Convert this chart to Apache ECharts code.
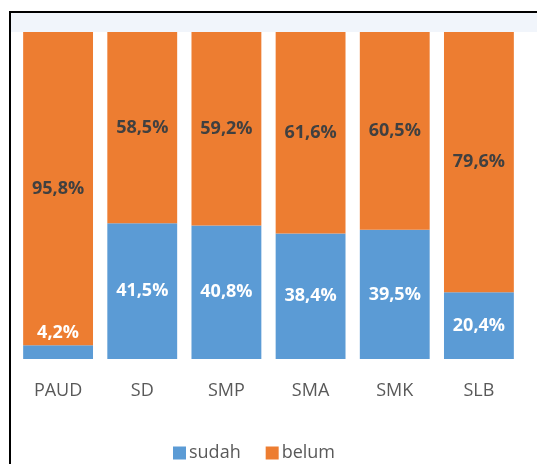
<!DOCTYPE html>
<html>
<head>
<meta charset="utf-8">
<script src="https://cdn.jsdelivr.net/npm/echarts@6/dist/echarts.min.js"></script>
<style>
html,body{margin:0;padding:0;background:#fff;}
#c{width:537px;height:464px;}
</style>
</head>
<body>
<div id="c"></div>
<script>
const categories = ['PAUD', 'SD', 'SMP', 'SMA', 'SMK', 'SLB'];
const sudah = [4.2, 41.5, 40.8, 38.4, 39.5, 20.4];
const belum = [95.8, 58.5, 59.2, 61.6, 60.5, 79.6];
const seriesNames = ['sudah', 'belum'];

const fmt = p => p.value.toFixed(1).replace('.', ',') + '%';
const chart = echarts.init(document.getElementById('c'), null, {renderer: 'canvas'});
chart.setOption({
  animation: false,
  backgroundColor: '#fff',
  textStyle: {fontFamily: 'Open Sans'},
  grid: {left: 16, right: 16, top: 32, bottom: 105},
  graphic: [
    {type: 'rect', z: -10, shape: {x: 11, y: 13, width: 600, height: 19}, style: {fill: '#f1f5fb'}},
    {type: 'rect', z: 100, shape: {x: 10, y: 12, width: 600, height: 500}, style: {fill: 'none', stroke: '#000', lineWidth: 2}}
  ],
  legend: {
    bottom: -3,
    left: 168,
    itemWidth: 13, itemHeight: 13, itemGap: 25,
    icon: 'rect',
    textStyle: {color: '#595959', fontSize: 18, fontFamily: 'Open Sans', padding: [0, 0, 0, -2]},
    data: seriesNames
  },
  xAxis: {
    type: 'category',
    data: categories,
    axisLine: {show: false},
    axisTick: {show: false},
    axisLabel: {color: '#595959', fontSize: 18, margin: 23, fontFamily: 'Open Sans'}
  },
  yAxis: {type: 'value', min: 0, max: 100, show: false, splitLine: {show: false}},
  series: [
    {
      name: seriesNames[0], type: 'bar', stack: 'a', barCategoryGap: '17%',
      data: sudah.map((v, i) => i === 0 ? {value: v, label: {position: 'top', distance: 3}} : v),
      itemStyle: {color: '#5B9BD5'},
      label: {
        show: true, position: 'inside', color: '#fff', fontWeight: 'bold', fontSize: 18,
        formatter: fmt
      }
    },
    {
      name: seriesNames[1], type: 'bar', stack: 'a', data: belum, barCategoryGap: '17%',
      itemStyle: {color: '#ED7D31'},
      label: {
        show: true, position: 'inside', color: '#404040', fontWeight: 'bold', fontSize: 18,
        formatter: fmt
      }
    }
  ]
});
</script>
</body>
</html>
